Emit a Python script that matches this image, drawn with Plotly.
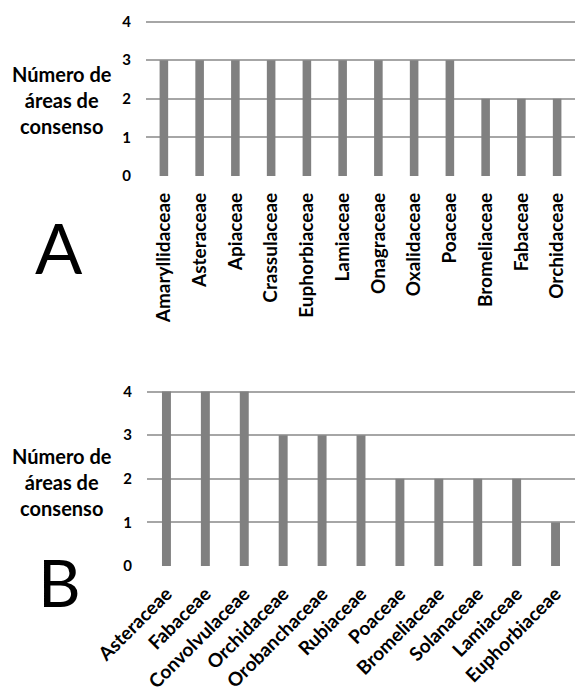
import plotly.graph_objects as go

cats_a = ["Amaryllidaceae", "Asteraceae", "Apiaceae", "Crassulaceae", "Euphorbiaceae",
          "Lamiaceae", "Onagraceae", "Oxalidaceae", "Poaceae", "Bromeliaceae",
          "Fabaceae", "Orchidaceae"]
vals_a = [3, 3, 3, 3, 3, 3, 3, 3, 3, 2, 2, 2]

cats_b = ["Asteraceae", "Fabaceae", "Convolvulaceae", "Orchidaceae", "Orobanchaceae",
          "Rubiaceae", "Poaceae", "Bromeliaceae", "Solanaceae", "Lamiaceae",
          "Euphorbiaceae"]
vals_b = [4, 4, 4, 3, 3, 3, 2, 2, 2, 2, 1]

y_ticks = [0, 1, 2, 3, 4]
y_title = "Número de<br>áreas de<br>consenso"

BAR = "#808080"
GRID = "#a6a6a6"
FONT = "Lato"

fig = go.Figure()
fig.add_trace(go.Bar(x=cats_a, y=vals_a, marker_color=BAR, width=0.24,
                     xaxis="x", yaxis="y", showlegend=False))
fig.add_trace(go.Bar(x=cats_b, y=vals_b, marker_color=BAR, width=0.23,
                     xaxis="x2", yaxis="y2", showlegend=False))

W, H = 575, 690

def py(pix):
    return 1 - pix / H

axis_common = dict(showgrid=False, showline=False, ticks="", zeroline=False,
                   automargin=False,
                   tickfont=dict(family=FONT, size=19, color="black", weight="bold"))
yaxis_common = dict(range=[0, 4.03], tickvals=y_ticks, showgrid=True, gridcolor=GRID,
                    gridwidth=1.5, zeroline=False, showline=False, ticks="",
                    automargin=False, ticklabelstandoff=14,
                    tickfont=dict(family=FONT, size=15, color="black", weight="bold"))

fig.update_layout(
    template="none",
    width=W, height=H,
    margin=dict(l=0, r=0, t=0, b=0),
    paper_bgcolor="white", plot_bgcolor="white",
    xaxis=dict(domain=[146 / W, 1], anchor="y", tickangle=-90,
               ticklabelstandoff=12, **axis_common),
    yaxis=dict(domain=[py(176), py(20.4)], anchor="x", **yaxis_common),
    xaxis2=dict(domain=[147 / W, 1], anchor="y2", tickangle=-45,
                ticklabelstandoff=12, **axis_common),
    yaxis2=dict(domain=[py(566), py(390.3)], anchor="x2", **yaxis_common),
)

title_font = dict(family=FONT, size=20, color="black", weight="bold")
fig.add_annotation(x=62 / W, y=py(100), xref="paper", yref="paper", text=y_title,
                   showarrow=False, align="center", xanchor="center", yanchor="middle",
                   font=title_font)
fig.add_annotation(x=62 / W, y=py(482), xref="paper", yref="paper", text=y_title,
                   showarrow=False, align="center", xanchor="center", yanchor="middle",
                   font=title_font)
fig.add_annotation(x=58.5 / W, y=py(246.5), xref="paper", yref="paper", text="A",
                   showarrow=False, xanchor="center", yanchor="middle",
                   font=dict(family=FONT, size=70, color="black"))
fig.add_annotation(x=59 / W, y=py(581.5), xref="paper", yref="paper", text="B",
                   showarrow=False, xanchor="center", yanchor="middle",
                   font=dict(family=FONT, size=66, color="black"))

fig.write_html("out.html", config={"displayModeBar": False},
               post_script="document.body.style.margin='0';document.body.style.overflow='hidden';")
